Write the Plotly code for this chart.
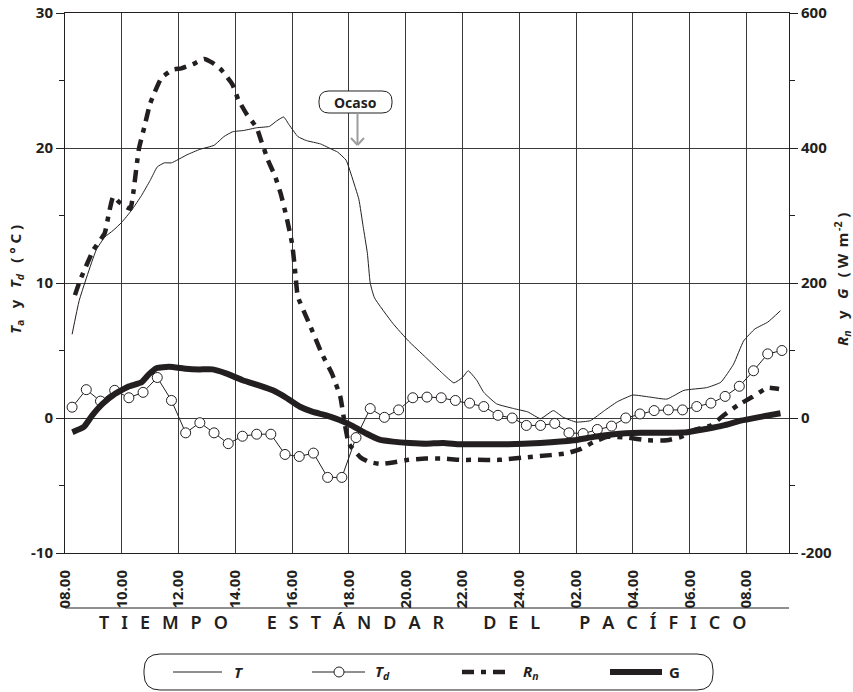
import plotly.graph_objects as go

INK = "#231f20"
GRID = "#3a3a3a"
FONT = "Noto Sans"

# x axis: hours from midnight of the first day (24 = midnight, 32 = 08.00 next day)
tick_hours = [8, 10, 12, 14, 16, 18, 20, 22, 24, 26, 28, 30, 32]
tick_labels = ["08.00", "10.00", "12.00", "14.00", "16.00", "18.00", "20.00",
               "22.00", "24.00", "02.00", "04.00", "06.00", "08.00"]
temp_ticks = [-10, 0, 10, 20, 30]
temp_labels = ["-10", "0", "10", "20", "30"]
flux_ticks = [-200, 0, 200, 400, 600]
flux_labels = ["-200", "0", "200", "400", "600"]

# air temperature T (°C)
t_hour = [8.25, 8.5, 9.1, 9.4, 9.7, 10.0, 10.35, 10.7, 11.0, 11.25, 11.5, 11.75,
          12.3, 12.75, 13.25, 13.6, 13.9, 14.3, 14.75, 15.2, 15.45, 15.7, 15.9,
          16.2, 16.5, 17.0, 17.4, 17.6, 17.9, 18.1, 18.35, 18.5, 18.65, 18.75,
          18.9, 19.55, 20.1, 20.7, 21.3, 21.7, 22.0, 22.2, 22.5, 22.75, 23.2,
          23.8, 24.3, 24.75, 25.2, 25.55, 26.0, 26.5, 27.0, 27.45, 28.0, 28.6,
          29.2, 29.8, 30.6, 31.1, 31.55, 31.9, 32.3, 32.75, 33.2]
t_val = [6.2, 8.7, 12.45, 13.4, 13.9, 14.5, 15.4, 16.5, 17.6, 18.6, 18.9, 18.9,
         19.5, 19.9, 20.2, 20.85, 21.2, 21.3, 21.5, 21.6, 22.0, 22.3, 21.7,
         20.85, 20.55, 20.3, 19.9, 19.7, 19.1, 17.9, 16.2, 14.2, 12.2, 10.0,
         8.9, 7.0, 5.7, 4.5, 3.3, 2.6, 3.0, 3.5, 2.8, 1.9, 1.05,
         0.7, 0.45, -0.05, 0.55, 0.05, -0.3, -0.2, 0.55, 1.2, 1.7, 1.55,
         1.4, 2.05, 2.25, 2.65, 4.0, 5.7, 6.6, 7.1, 7.95]

# dew point Td (°C)
td_hour = [8.25, 8.75, 9.25, 9.75, 10.25, 10.75, 11.25, 11.75, 12.25, 12.75,
           13.25, 13.75, 14.25, 14.75, 15.25, 15.75, 16.25, 16.75, 17.25, 17.75,
           18.25, 18.75, 19.25, 19.75, 20.25, 20.75, 21.25, 21.75, 22.25, 22.75,
           23.25, 23.75, 24.25, 24.75, 25.25, 25.75, 26.25, 26.75, 27.25, 27.75,
           28.25, 28.75, 29.25, 29.75, 30.25, 30.75, 31.25, 31.75, 32.25, 32.75,
           33.25]
td_val = [0.8, 2.1, 1.25, 2.05, 1.5, 1.9, 3.0, 1.3, -1.1, -0.35,
          -1.1, -1.9, -1.35, -1.2, -1.2, -2.7, -2.85, -2.6, -4.4, -4.4,
          -1.45, 0.7, 0.05, 0.6, 1.5, 1.55, 1.5, 1.3, 1.1, 0.85,
          0.2, 0.0, -0.55, -0.55, -0.4, -1.1, -1.15, -0.85, -0.6, 0.0,
          0.3, 0.55, 0.6, 0.6, 0.85, 1.1, 1.6, 2.35, 3.5, 4.75,
          5.0]

# net radiation Rn (W m-2)
rn_hour = [8.35, 8.53, 9.0, 9.4, 9.55, 9.7, 9.9, 10.3, 10.4, 10.6, 10.8, 11.0,
           11.4, 11.8, 12.1, 12.5, 12.9, 13.2, 13.5, 13.9, 14.1, 14.4, 14.75,
           14.9, 15.15, 15.4, 15.6, 15.8, 16.0, 16.1, 16.2, 16.6, 17.05, 17.4,
           17.7, 17.85, 18.0, 18.4, 18.7, 19.1, 19.55, 20.1, 20.7, 21.3, 21.9,
           22.4, 23.3, 24.3, 25.1, 25.7, 26.15, 26.6, 27.1, 27.8, 28.5, 29.2,
           29.7, 30.15, 30.75, 31.2, 31.7, 32.2, 32.75, 33.15]
rn_val = [182, 204, 249, 274, 304, 328, 320, 310, 332, 398, 432, 466,
          504, 516, 518, 524, 532, 526, 516, 494, 472, 450, 430,
          412, 382, 358, 332, 298, 258, 220, 180, 140, 95, 66,
          31, -8, -38, -58, -65, -68, -66, -62, -60, -60, -62,
          -62, -62, -58, -55, -52, -46, -36, -28, -29, -33, -33,
          -28, -18, -11, 4, 19, 31, 45, 43]

# soil heat flux G (W m-2)
g_hour = [8.26, 8.67, 8.96, 9.32, 9.73, 10.26, 10.7, 10.96, 11.24, 11.67, 12.26,
          12.73, 13.2, 13.67, 14.26, 14.85, 15.32, 15.79, 16.26, 16.73, 17.2,
          17.67, 18.14, 18.61, 19.08, 19.55, 20.14, 20.73, 21.32, 21.9, 22.4,
          23.56, 24.74, 25.92, 26.62, 27.33, 28.27, 29.2, 29.92, 30.62, 31.2,
          31.8, 32.4, 33.2]
g_val = [-21, -13, 4, 21, 35, 47, 53, 65, 74, 76, 73,
         72, 72, 66, 56, 48, 41, 30, 17, 9, 4,
         -3, -12, -23, -32, -35, -37, -38, -37, -39, -39,
         -39, -37, -33, -28, -24, -22, -22, -21, -16, -11,
         -4, 1, 7]

# plot area in pixels
W, H = 853, 692
PL, PR, PT, PB = 65, 789, 13, 553


def px(x):
    return (x - PL) / (PR - PL)


def py(y):
    return (PB - y) / (PB - PT)


def rounded_box(x0, y0, x1, y1, r):
    pts = [
        ("M", (x0 + r, y0)), ("L", (x1 - r, y0)), ("Q", (x1, y0), (x1, y0 + r)),
        ("L", (x1, y1 - r)), ("Q", (x1, y1), (x1 - r, y1)), ("L", (x0 + r, y1)),
        ("Q", (x0, y1), (x0, y1 - r)), ("L", (x0, y0 + r)), ("Q", (x0, y0), (x0 + r, y0)),
    ]
    out = []
    for cmd, *xy in pts:
        out.append(cmd + " ".join(f"{px(a):.5f},{py(b):.5f}" for a, b in xy))
    return " ".join(out) + " Z"


def label(text, x, y, font, angle=0, xanchor="center"):
    return dict(text=text, xref="paper", yref="paper", x=px(x), y=py(y),
                xanchor=xanchor, yanchor="middle", textangle=angle,
                showarrow=False, font=font)


RN_DASH = "12px,7px,5px,7px"

fig = go.Figure()

fig.add_trace(go.Scatter(x=rn_hour, y=rn_val, yaxis="y2", mode="lines",
                         line=dict(color=INK, width=4.5, dash=RN_DASH, shape="spline", smoothing=0.4)))
fig.add_trace(go.Scatter(x=g_hour, y=g_val, yaxis="y2", mode="lines",
                         line=dict(color=INK, width=6, shape="spline", smoothing=0.4)))
fig.add_trace(go.Scatter(x=t_hour, y=t_val, mode="lines",
                         line=dict(color=INK, width=1, shape="spline", smoothing=0.4)))
fig.add_trace(go.Scatter(x=td_hour, y=td_val, mode="lines+markers",
                         line=dict(color=INK, width=1),
                         marker=dict(symbol="circle", size=10, color="white",
                                     line=dict(color=INK, width=1))))

tickfont = dict(family=FONT, size=15, color=INK, weight=700)

shapes = []
# rule above the x title
shapes.append(dict(type="line", xref="paper", yref="paper", x0=px(65), x1=px(789),
                   y0=py(608), y1=py(608), line=dict(color=INK, width=1)))
# legend frame
shapes.append(dict(type="path", xref="paper", yref="paper",
                   path=rounded_box(144, 654, 713, 690, 16), line=dict(color=INK, width=1)))
# legend samples
LY = 672
shapes.append(dict(type="line", xref="paper", yref="paper", x0=px(173), x1=px(222),
                   y0=py(LY), y1=py(LY), line=dict(color=INK, width=1)))
shapes.append(dict(type="line", xref="paper", yref="paper", x0=px(312), x1=px(365),
                   y0=py(LY), y1=py(LY), line=dict(color=INK, width=1)))
shapes.append(dict(type="circle", xref="paper", yref="paper", x0=px(334), x1=px(344),
                   y0=py(LY + 5), y1=py(LY - 5), fillcolor="white", line=dict(color=INK, width=1)))
shapes.append(dict(type="line", xref="paper", yref="paper", x0=px(462), x1=px(508),
                   y0=py(LY), y1=py(LY), line=dict(color=INK, width=4.5, dash=RN_DASH)))
shapes.append(dict(type="line", xref="paper", yref="paper", x0=px(610), x1=px(662),
                   y0=py(LY), y1=py(LY), line=dict(color=INK, width=6)))
# "Ocaso" callout
shapes.append(dict(type="path", xref="paper", yref="paper",
                   path=rounded_box(319, 91, 392, 113, 10), line=dict(color=INK, width=1),
                   fillcolor="white"))
ARROW = "#9d9d9d"
shapes.append(dict(type="line", xref="paper", yref="paper", x0=px(357.5), x1=px(357.5),
                   y0=py(113), y1=py(145), line=dict(color=ARROW, width=2)))
shapes.append(dict(type="line", xref="paper", yref="paper", x0=px(351), x1=px(357.5),
                   y0=py(138), y1=py(145), line=dict(color=ARROW, width=2)))
shapes.append(dict(type="line", xref="paper", yref="paper", x0=px(364), x1=px(357.5),
                   y0=py(138), y1=py(145), line=dict(color=ARROW, width=2)))

SP = "\u2002\u2009"
WSP = "\u2002\u2002\u2002\u2002\u2009"
xtitle = WSP.join(SP.join(list(w)) for w in ["TIEMPO", "ESTÁNDAR", "DEL", "PACÍFICO"])

lab = dict(family=FONT, size=15, color=INK, weight=700)
annotations = [
    label(xtitle, 422, 622, dict(family=FONT, size=18, color=INK, weight=600)),
    label("Ocaso", 355.5, 102, dict(family=FONT, size=14, color=INK, weight=700)),
    label("<i>T</i><sub>a</sub>\u2002 y \u2002<i>T</i><sub><i>d</i></sub>\u2002 ( \u00b0 C )",
          16, 280, lab, angle=-90),
    label("<i>R</i><sub><i>n</i></sub>\u2002 y \u2002<i>G</i>\u2002 ( W \u2009m<sup>\u2009-2</sup> )",
          842, 280, lab, angle=-90),
    label("<i>T</i>", 232, LY, lab, xanchor="left"),
    label("<i>T</i><sub><i>d</i></sub>", 373, LY, lab, xanchor="left"),
    label("<i>R</i><sub><i>n</i></sub>", 521, LY, lab, xanchor="left"),
    label("G", 667, LY, lab, xanchor="left"),
]

fig.update_layout(
    width=W, height=H,
    margin=dict(l=PL, r=W - PR, t=PT, b=H - PB, autoexpand=False),
    paper_bgcolor="white", plot_bgcolor="white",
    showlegend=False,
    font=dict(family=FONT, color=INK),
    xaxis=dict(
        range=[8, 33.5], tickvals=tick_hours, ticktext=tick_labels, tickangle=-90,
        tickfont=tickfont, ticks="", ticklabelstandoff=10, automargin=False,
        showgrid=True, gridcolor=GRID, gridwidth=1, zeroline=False,
        showline=True, linecolor=INK, linewidth=1, mirror=True,
    ),
    yaxis=dict(
        range=[-10, 30], tickvals=temp_ticks, ticktext=temp_labels, tickfont=tickfont,
        ticks="outside", ticklen=8, tickcolor=INK, automargin=False,
        minor=dict(dtick=5, ticks="outside", ticklen=5, tickcolor=INK, showgrid=False),
        showgrid=True, gridcolor=GRID, gridwidth=1, zeroline=False,
        showline=True, linecolor=INK, linewidth=1,
    ),
    yaxis2=dict(
        range=[-200, 600], tickvals=flux_ticks, ticktext=flux_labels, tickfont=tickfont,
        overlaying="y", side="right", automargin=False,
        ticks="outside", ticklen=8, tickcolor=INK,
        minor=dict(dtick=100, ticks="outside", ticklen=5, tickcolor=INK, showgrid=False),
        showgrid=False, zeroline=False,
        showline=True, linecolor=INK, linewidth=1,
    ),
    shapes=shapes,
    annotations=annotations,
)

# the page body has a default 8px margin; drop it so the figure sits at the origin
fig.write_html("out.html", config={"displayModeBar": False},
               post_script="document.body.style.margin='0';")
